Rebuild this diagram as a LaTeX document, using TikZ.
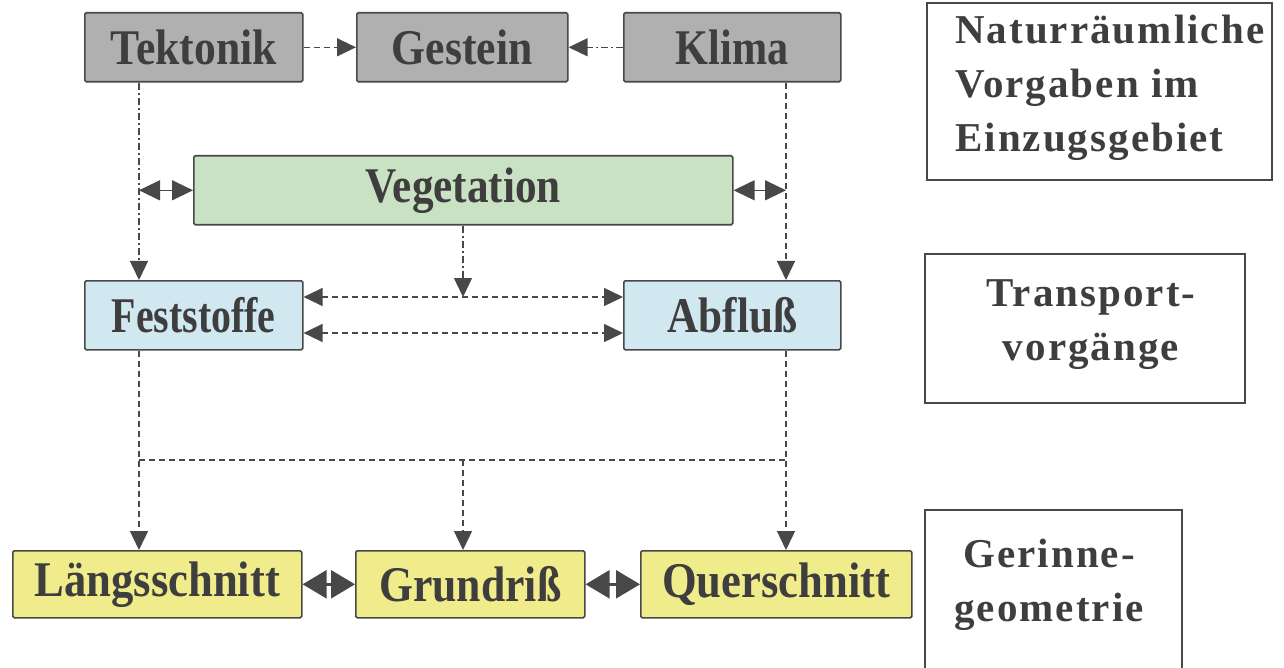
\documentclass[tikz,border=0pt]{standalone}
\usepackage{fontspec}
\setmainfont{Liberation Serif}
\newfontfamily\sidefont[LetterSpace=5]{Liberation Serif}
\usetikzlibrary{arrows.meta}
\definecolor{txt}{RGB}{62,62,62}
\definecolor{edge}{RGB}{72,72,72}
\definecolor{greyfill}{RGB}{176,176,176}
\definecolor{greenfill}{RGB}{202,226,196}
\definecolor{bluefill}{RGB}{210,232,241}
\definecolor{yellowfill}{RGB}{240,236,140}
\definecolor{conn}{RGB}{72,72,72}
\newcommand\narrowtext[2]{\scalebox{#1}[1.04]{#2}}
\begin{document}
\begin{tikzpicture}[x=1pt,y=-1pt,
  box/.style={draw=edge, line width=1.6pt, rounded corners=1.5pt, text=txt,
    font=\fontsize{48}{48}\selectfont\bfseries, inner sep=0pt, anchor=north west},
  greybox/.style={box, fill=greyfill},
  greenbox/.style={box, fill=greenfill},
  bluebox/.style={box, fill=bluefill},
  yellowbox/.style={box, fill=yellowfill},
  sidebox/.style={draw=edge, line width=1.4pt},
  sidetext/.style={text=txt, font=\fontsize{41}{54}\sidefont\bfseries, inner sep=0pt},
  conn/.style={draw=conn, line width=1.4pt, dash pattern=on 6pt off 4pt},
  conndot/.style={draw=conn, line width=1.4pt, dash pattern=on 7pt off 3pt on 2pt off 3pt},
  tip/.style={-{Triangle[length=19pt,width=18pt]}},
  dbl/.style={{Triangle[length=19pt,width=18pt]}-{Triangle[length=19pt,width=18pt]}},
  vegdbl/.style={draw=conn, line width=1.4pt, {Triangle[length=21pt,width=20pt]}-{Triangle[length=21pt,width=20pt]}},
  heavy/.style={draw=conn, line width=2.5pt, {Triangle[length=24pt,width=28pt]}-{Triangle[length=24pt,width=28pt]}}
]
\useasboundingbox (0,0) rectangle (1284,668);
\fill[white] (0,0) rectangle (1284,668);

% column coordinates
\coordinate (xL) at (139,0);
\coordinate (xM) at (463,0);
\coordinate (xR) at (786,0);
\coordinate (yU) at (0,297);
\coordinate (yD) at (0,333);
\coordinate (yH) at (0,460);

% main nodes
\node[greybox, minimum width=218pt, minimum height=69pt] (Tektonik) at (84,12) {\narrowtext{0.91}{Tektonik}};
\node[greybox, minimum width=211pt, minimum height=69pt] (Gestein) at (356,12) {\narrowtext{0.91}{Gestein}};
\node[greybox, minimum width=217pt, minimum height=69pt] (Klima) at (623,12) {\narrowtext{0.88}{Klima}};
\node[greenbox, minimum width=539pt, minimum height=69pt] (Vegetation) at (193,155) {\narrowtext{0.9}{Vegetation}};
\node[bluebox, minimum width=218pt, minimum height=69pt] (Feststoffe) at (84,280) {\narrowtext{0.83}{Feststoffe}};
\node[bluebox, minimum width=217pt, minimum height=69pt] (Abfluss) at (623,280) {\narrowtext{0.9}{Abfluß}};
\node[yellowbox, minimum width=289pt, minimum height=67pt] (Laengs) at (12,550) {\narrowtext{0.93}{Längsschnitt}};
\node[yellowbox, minimum width=229pt, minimum height=67pt] (Grundriss) at (355,550) {\narrowtext{0.91}{Grundriß}};
\node[yellowbox, minimum width=271pt, minimum height=67pt] (Quer) at (640,550) {\narrowtext{0.93}{Querschnitt}};

% side labels
\draw[sidebox] (927,3) rectangle (1272,180);
\node[sidetext, align=left, anchor=west] (natur) at (955,88) {Naturräumliche\\Vorgaben im\\Einzugsgebiet};
\draw[sidebox] (925,254) rectangle (1245,403);
\node[sidetext, align=center] (transport) at (1091,325) {Transport-\\vorgänge};
\draw[sidebox] (925,670) |- (1182,510) -- (1182,670);
\node[sidetext, align=center] (gerinne) at (1049,585) {Gerinne-\\geometrie};

% connectors top
\draw[conn, tip] (Tektonik.east) -- (Gestein.west);
\draw[conndot, tip] (Klima.west) -- (Gestein.east);
\draw[conndot, tip] (Tektonik.south -| xL) -- (Feststoffe.north -| xL);
\draw[conn, tip] (Klima.south -| xR) -- (Abfluss.north -| xR);
\draw[vegdbl] (Vegetation.west -| xL) -- (Vegetation.west);
\draw[vegdbl] (Vegetation.east) -- (Vegetation.east -| xR);
\draw[conndot, tip] (Vegetation.south -| xM) -- (yU -| xM);
\draw[conn, dbl] (Feststoffe.east |- yU) -- (Abfluss.west |- yU);
\draw[conn, dbl] (Feststoffe.east |- yD) -- (Abfluss.west |- yD);

% connectors bottom
\draw[conn, tip] (Feststoffe.south -| xL) -- (Laengs.north -| xL);
\draw[conn, tip] (Abfluss.south -| xR) -- (Quer.north -| xR);
\draw[conn] (yH -| xL) -- (yH -| xR);
\draw[conn, tip] (yH -| xM) -- (Grundriss.north -| xM);
\draw[heavy] (Laengs.east) -- (Grundriss.west);
\draw[heavy] (Grundriss.east) -- (Quer.west);
\end{tikzpicture}
\end{document}
